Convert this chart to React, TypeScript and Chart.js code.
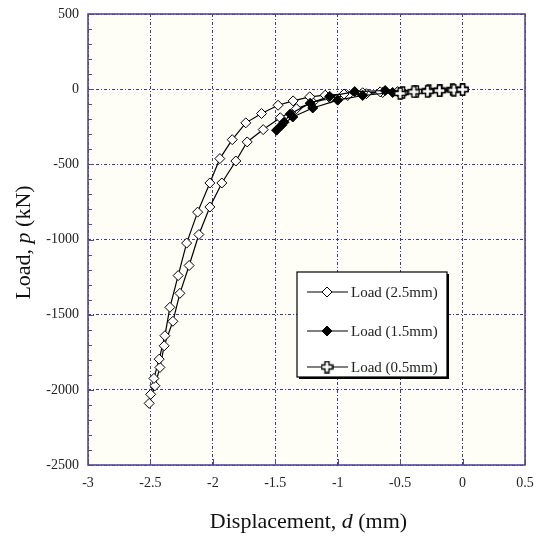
import React, { useEffect, useRef } from 'react';
import { Chart, registerables } from 'chart.js';

Chart.register(...registerables);

// ---- data ----
const xTickValues = [-3, -2.5, -2, -1.5, -1, -0.5, 0, 0.5];
const yTickValues = [500, 0, -500, -1000, -1500, -2000, -2500];

const legendLabels = ['Load (2.5mm)', 'Load (1.5mm)', 'Load (0.5mm)'];

// 2.5 mm: loading branch then unloading branch
const load25X = [
  -0.52, -0.64, -0.77, -0.92, -1.06, -1.2, -1.33, -1.46, -1.597, -1.725, -1.816, -1.928, -2.024, -2.112,
  -2.19, -2.264, -2.32, -2.39, -2.424, -2.464, -2.51,
  -2.498, -2.472, -2.43, -2.384, -2.344, -2.278, -2.21, -2.122, -2.024, -1.944, -1.845, -1.736, -1.61,
  -1.478, -1.357, -1.224, -1.1, -0.95, -0.8, -0.66,
];
const load25Y = [
  -16, -22, -30, -42, -60, -88, -130, -190, -269, -351, -478, -624, -784, -967,
  -1173, -1358, -1544, -1707, -1851, -1973, -2090,
  -2030, -1924, -1796, -1640, -1451, -1240, -1024, -818, -624, -462, -336, -224, -162,
  -107, -78, -51, -40, -32, -24, -18,
];

// 1.5 mm
const load15X = [-0.56, -0.8, -1.0, -1.2, -1.36, -1.45, -1.49, -1.43, -1.38, -1.22, -1.064, -0.864, -0.62];
const load15Y = [-22, -42, -73, -125, -185, -240, -273, -220, -165, -93, -48, -16, -9];

// 0.5 mm
const load05X = [0, -0.08, -0.18, -0.27, -0.37, -0.48, -0.5, -0.39, -0.28, -0.185, -0.07, 0];
const load05Y = [0, -3, -6, -9, -14, -22, -28, -18, -14, -10, -6, -3];

const FONT = "'Liberation Serif', 'Times New Roman', serif";

function toPoints(xs: number[], ys: number[]) {
  return xs.map((x, i) => ({ x, y: ys[i] }));
}

function makeCrossCanvas(): HTMLCanvasElement {
  const c = document.createElement('canvas');
  c.width = 13;
  c.height = 13;
  const g = c.getContext('2d')!;
  const cx = 6.5, cy = 6.5, a = 5.5, t = 2;
  g.beginPath();
  g.moveTo(cx - t, cy - a);
  g.lineTo(cx + t, cy - a);
  g.lineTo(cx + t, cy - t);
  g.lineTo(cx + a, cy - t);
  g.lineTo(cx + a, cy + t);
  g.lineTo(cx + t, cy + t);
  g.lineTo(cx + t, cy + a);
  g.lineTo(cx - t, cy + a);
  g.lineTo(cx - t, cy + t);
  g.lineTo(cx - a, cy + t);
  g.lineTo(cx - a, cy - t);
  g.lineTo(cx - t, cy - t);
  g.closePath();
  g.fillStyle = '#ffffff';
  g.fill();
  g.lineWidth = 1.4;
  g.strokeStyle = '#000000';
  g.stroke();
  return c;
}

function drawDiamond(ctx: CanvasRenderingContext2D, x: number, y: number, r: number, fill: string) {
  ctx.beginPath();
  ctx.moveTo(x - r, y);
  ctx.lineTo(x, y - r);
  ctx.lineTo(x + r, y);
  ctx.lineTo(x, y + r);
  ctx.closePath();
  ctx.fillStyle = fill;
  ctx.fill();
  ctx.lineWidth = 1;
  ctx.strokeStyle = '#000';
  ctx.stroke();
}

const zeroPad = (s: any) => {
  s.paddingTop = 0;
  s.paddingBottom = 0;
  s.paddingLeft = 0;
  s.paddingRight = 0;
};

export default function App() {
  const canvasRef = useRef<HTMLCanvasElement | null>(null);

  useEffect(() => {
    const canvas = canvasRef.current;
    if (!canvas) return;
    const cross = makeCrossCanvas();

    const decor = {
      id: 'decor',
      beforeDraw(chart: any) {
        const { ctx, chartArea: a } = chart;
        ctx.save();
        ctx.fillStyle = '#fefef7';
        ctx.fillRect(a.left, a.top, a.right - a.left, a.bottom - a.top);
        ctx.restore();
      },
      afterDraw(chart: any) {
        const { ctx, chartArea: a, scales } = chart;
        const xs = scales.x, ys = scales.y;
        ctx.save();
        // inner ticks
        ctx.strokeStyle = '#55479a';
        ctx.lineWidth = 1;
        ctx.beginPath();
        for (let v = -2500; v <= 500; v += 100) {
          const py = Math.round(ys.getPixelForValue(v)) + 0.5;
          const len = v % 500 === 0 ? 6 : 4;
          ctx.moveTo(a.left, py);
          ctx.lineTo(a.left + len, py);
        }
        for (const v of xTickValues) {
          const px = Math.round(xs.getPixelForValue(v)) + 0.5;
          ctx.moveTo(px, a.bottom);
          ctx.lineTo(px, a.bottom - 6);
        }
        ctx.stroke();
        // frame
        ctx.lineWidth = 1.6;
        ctx.strokeStyle = '#55479a';
        ctx.strokeRect(a.left, a.top, a.right - a.left, a.bottom - a.top);

        // axis titles with italic variable
        const drawMixed = (parts: [string, boolean][], cx: number, cy: number, rot: number) => {
          ctx.save();
          ctx.translate(cx, cy);
          ctx.rotate(rot);
          ctx.fillStyle = '#111';
          ctx.textBaseline = 'alphabetic';
          ctx.textAlign = 'left';
          let total = 0;
          const widths = parts.map(([s, it]) => {
            ctx.font = `${it ? 'italic ' : ''}22px ${FONT}`;
            const w = ctx.measureText(s).width;
            total += w;
            return w;
          });
          let x = -total / 2;
          parts.forEach(([s, it], i) => {
            ctx.font = `${it ? 'italic ' : ''}22px ${FONT}`;
            ctx.fillText(s, x, 7);
            x += widths[i];
          });
          ctx.restore();
        };
        drawMixed([['Displacement, ', false], ['d', true], [' (mm)', false]], (a.left + a.right) / 2 + 2, 521, 0);
        drawMixed([['Load, ', false], ['p', true], [' (kN)', false]], 23, (a.top + a.bottom) / 2 + 3, -Math.PI / 2);

        // legend box
        const w = a.right - a.left, h = a.bottom - a.top;
        const lx = a.left + w * ((297 - 88) / 437);
        const ly = a.top + h * ((272 - 14) / 451);
        const lw = 150, lh = 105;
        ctx.fillStyle = '#000';
        ctx.fillRect(lx + 2, ly + 2, lw, lh);
        ctx.fillStyle = '#fff';
        ctx.fillRect(lx, ly, lw, lh);
        ctx.lineWidth = 1.2;
        ctx.strokeStyle = '#000';
        ctx.strokeRect(lx, ly, lw, lh);
        const rows = [20, 59, 95];
        rows.forEach((dy, i) => {
          const yy = ly + dy;
          ctx.beginPath();
          ctx.lineWidth = 1.2;
          ctx.strokeStyle = '#000';
          ctx.moveTo(lx + 10, yy);
          ctx.lineTo(lx + 51, yy);
          ctx.stroke();
          const mx = lx + 30;
          if (i === 0) drawDiamond(ctx, mx, yy, 5, '#fff');
          else if (i === 1) drawDiamond(ctx, mx, yy, 5, '#000');
          else ctx.drawImage(cross, mx - cross.width / 2, yy - cross.height / 2);
          ctx.fillStyle = '#222';
          ctx.font = `15px ${FONT}`;
          ctx.textBaseline = 'middle';
          ctx.textAlign = 'left';
          ctx.fillText(legendLabels[i], lx + 54, yy + 1);
        });
        ctx.restore();
      },
    };

    const chart = new Chart(canvas, {
      type: 'scatter',
      data: {
        datasets: [
          {
            label: legendLabels[0],
            data: toPoints(load25X, load25Y),
            showLine: true,
            borderColor: '#000',
            borderWidth: 1.2,
            pointStyle: 'rectRot',
            pointRadius: 5,
            pointBackgroundColor: '#fff',
            pointBorderColor: '#000',
            pointBorderWidth: 1,
            order: 3,
          },
          {
            label: legendLabels[1],
            data: toPoints(load15X, load15Y),
            showLine: true,
            borderColor: '#000',
            borderWidth: 1.2,
            pointStyle: 'rectRot',
            pointRadius: 5,
            pointBackgroundColor: '#000',
            pointBorderColor: '#000',
            pointBorderWidth: 1,
            order: 2,
          },
          {
            label: legendLabels[2],
            data: toPoints(load05X, load05Y),
            showLine: true,
            borderColor: '#000',
            borderWidth: 1.2,
            pointStyle: cross as any,
            pointRadius: 6,
            order: 1,
          },
        ],
      },
      options: {
        animation: false,
        responsive: false,
        devicePixelRatio: 1,
        layout: { padding: { top: 14, right: 11, left: 0, bottom: 0 } },
        plugins: { legend: { display: false }, tooltip: { enabled: false } },
        scales: {
          x: {
            type: 'linear',
            min: -3,
            max: 0.5,
            afterBuildTicks: (s: any) => {
              s.ticks = xTickValues.map((v) => ({ value: v }));
            },
            afterFit: (s: any) => {
              s.height = 72;
              zeroPad(s);
            },
            ticks: {
              padding: 10,
              color: '#222',
              font: { family: FONT, size: 14 },
              callback: (v: any) => String(v),
              maxRotation: 0,
            },
            grid: { color: '#3a3a9a', lineWidth: 1, drawTicks: false },
            border: { display: false, dash: [3, 2, 1, 2] },
          },
          y: {
            type: 'linear',
            min: -2500,
            max: 500,
            afterBuildTicks: (s: any) => {
              s.ticks = yTickValues.map((v) => ({ value: v }));
            },
            afterFit: (s: any) => {
              s.width = 88;
              zeroPad(s);
            },
            ticks: {
              padding: 9,
              color: '#222',
              font: { family: FONT, size: 14 },
              callback: (v: any) => String(v),
            },
            grid: { color: '#3a3a9a', lineWidth: 1, drawTicks: false },
            border: { display: false, dash: [3, 2, 1, 2] },
          },
        },
      },
      plugins: [decor],
    });

    return () => chart.destroy();
  }, []);

  return (
    <div style={{ position: 'absolute', left: 0, top: 0, width: 536, height: 537, background: '#fff' }}>
      <canvas ref={canvasRef} width={536} height={537} style={{ display: 'block' }} />
    </div>
  );
}
